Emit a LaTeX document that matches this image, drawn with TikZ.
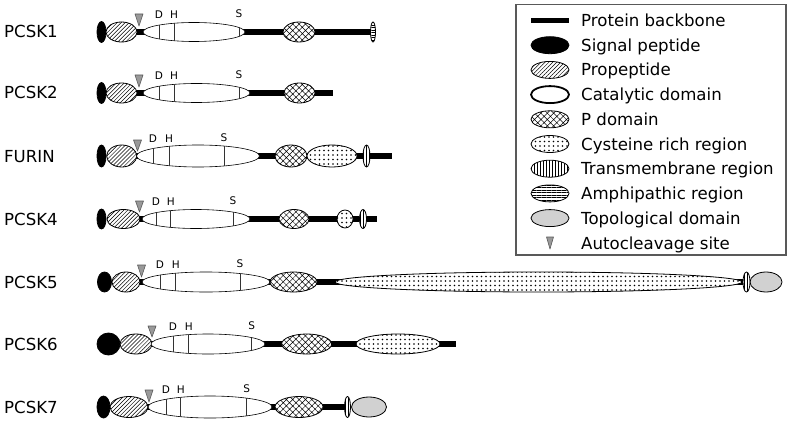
\documentclass[tikz,border=0pt]{standalone}
\usepackage{fontspec}
\setmainfont{DejaVu Sans}
\usetikzlibrary{
  backgrounds,
  patterns.meta,
  positioning,
  shapes.geometric,
}
\tikzset{
  dom/.style={ellipse, draw, line width=0.8pt, inner sep=0pt, outer sep=0pt},
  wh/.style 2 args={minimum width=#1pt, minimum height=#2pt},
  sigpep/.style={dom, fill=black},
  propep/.style={dom, preaction={fill=white}, pattern={Lines[angle=45, distance=2.8pt, line width=0.5pt]}},
  catdom/.style={dom, fill=white, line width=0.6pt},
  catleg/.style={catdom, line width=1.8pt},
  pdom/.style={dom, preaction={fill=white}, pattern={Hatch[angle=45, distance=4.5pt, line width=0.5pt]}},
  cysrich/.style={dom, preaction={fill=white}, pattern={Dots[distance=4.5pt, radius=0.9pt]}},
  tmreg/.style={dom, preaction={fill=white}, pattern={Lines[angle=90, distance=3pt, line width=0.6pt]}},
  amphreg/.style={dom, preaction={fill=white}, pattern={Lines[angle=0, distance=2.5pt, line width=0.5pt]}},
  topodom/.style={dom, fill=black!18},
  backbone/.style={line width=6.5pt},
  site/.style={line width=0.6pt, black!80},
  sitelbl/.style={inner sep=0pt, text height=7.7pt, text depth=0pt, font=\fontsize{10.5}{12}\selectfont},
  cleave/.style={fill=black!40, draw=black!65, line width=0.6pt, line join=round},
  protname/.style={anchor=west, inner sep=0pt, text height=12pt, text depth=0pt, font=\fontsize{16.6}{20}\selectfont},
}

\begin{document}
\begin{tikzpicture}[x=1pt, y=-1pt]
  \useasboundingbox (0,0) rectangle (789,425);

  % PCSK1
  \node[protname] (n1) at (4,32) {PCSK1};
  \node[sigpep, wh={9}{21}] (sp1) at (101.5,32) {};
  \node[propep, wh={31}{20}] (pp1) at (121.5,32) {};
  \node[catdom, wh={102}{19}] (cd1) at (194,32) {};
  \node[pdom, wh={32}{20}] (pd1) at (299,32) {};
  \node[amphreg, wh={5}{20}] (am1) at (373,32) {};
  \begin{scope}
    \clip (cd1.center) ellipse [x radius=51, y radius=9.5];
    \foreach \x in {159, 174, 239}
      \draw[site] (\x,20) -- (\x,44);
  \end{scope}
  \node[sitelbl] (d1) at (159,15) {D};
  \node[sitelbl] (h1) at (174,15) {H};
  \node[sitelbl] (s1) at (239,14) {S};
  \draw[cleave] (139,26) -- ++(-4,-12) -- ++(8,0) -- cycle;

  % PCSK2
  \node[protname] (n2) at (4,93) {PCSK2};
  \node[sigpep, wh={9}{21}] (sp2) at (101.5,93) {};
  \node[propep, wh={31}{20}] (pp2) at (121.5,93) {};
  \node[catdom, wh={107}{19}] (cd2) at (196.5,93) {};
  \node[pdom, wh={31}{20}] (pd2) at (299.5,93) {};
  \coordinate (e2) at (333,93);
  \begin{scope}
    \clip (cd2.center) ellipse [x radius=53.5, y radius=9.5];
    \foreach \x in {159, 174, 239}
      \draw[site] (\x,80) -- (\x,106);
  \end{scope}
  \node[sitelbl] (d2) at (159,76) {D};
  \node[sitelbl] (h2) at (174,76) {H};
  \node[sitelbl] (s2) at (239,75) {S};
  \draw[cleave] (139,87) -- ++(-4,-12) -- ++(8,0) -- cycle;

  % FURIN
  \node[protname] (n3) at (4,156) {FURIN};
  \node[sigpep, wh={9}{22}] (sp3) at (101.5,156) {};
  \node[propep, wh={30}{22}] (pp3) at (121.7,156) {};
  \node[catdom, wh={123}{22}] (cd3) at (198,156) {};
  \node[pdom, wh={32}{22}] (pd3) at (291,156) {};
  \node[cysrich, wh={50}{22}] (cr3) at (332,156) {};
  \node[tmreg, wh={7}{22}] (tm3) at (366.5,156) {};
  \coordinate (e3) at (392,156);
  \begin{scope}
    \clip (cd3.center) ellipse [x radius=61.5, y radius=11];
    \foreach \x in {153, 169, 224}
      \draw[site] (\x,142) -- (\x,170);
  \end{scope}
  \node[sitelbl] (d3) at (153,139) {D};
  \node[sitelbl] (h3) at (169,139) {H};
  \node[sitelbl] (s3) at (224,138) {S};
  \draw[cleave] (137.5,151) -- ++(-4,-11) -- ++(8,0) -- cycle;

  % PCSK4
  \node[protname] (n4) at (4,219) {PCSK4};
  \node[sigpep, wh={9}{20}] (sp4) at (101.5,219) {};
  \node[propep, wh={33}{19}] (pp4) at (123.5,219) {};
  \node[catdom, wh={108}{19}] (cd4) at (196,219) {};
  \node[pdom, wh={30}{19}] (pd4) at (294,219) {};
  \node[cysrich, wh={16}{18}] (cr4) at (345,219) {};
  \node[tmreg, wh={7}{19}] (tm4) at (363,219) {};
  \coordinate (e4) at (377,219);
  \begin{scope}
    \clip (cd4.center) ellipse [x radius=54, y radius=9.5];
    \foreach \x in {156, 170.7, 233}
      \draw[site] (\x,206) -- (\x,232);
  \end{scope}
  \node[sitelbl] (d4) at (156,202) {D};
  \node[sitelbl] (h4) at (170.7,202) {H};
  \node[sitelbl] (s4) at (233,201) {S};
  \draw[cleave] (139.5,212) -- ++(-4,-11) -- ++(8,0) -- cycle;

  % PCSK5
  \node[protname] (n5) at (4,282) {PCSK5};
  \node[sigpep, wh={14}{20}] (sp5) at (104.5,282) {};
  \node[propep, wh={28}{20}] (pp5) at (126,282) {};
  \node[catdom, wh={128}{20}] (cd5) at (206,282) {};
  \node[pdom, wh={47}{20}] (pd5) at (293.5,282) {};
  \node[cysrich, wh={407}{20}] (cr5) at (538.5,282) {};
  \node[tmreg, wh={7}{20}] (tm5) at (746.5,282) {};
  \node[topodom, wh={32}{20}] (td5) at (766,282) {};
  \begin{scope}
    \clip (cd5.center) ellipse [x radius=64, y radius=10];
    \foreach \x in {160, 175.7, 240}
      \draw[site] (\x,268) -- (\x,296);
  \end{scope}
  \node[sitelbl] (d5) at (160,265) {D};
  \node[sitelbl] (h5) at (175.7,265) {H};
  \node[sitelbl] (s5) at (240,264) {S};
  \draw[cleave] (141.5,277) -- ++(-4,-12) -- ++(8,0) -- cycle;

  % PCSK6
  \node[protname] (n6) at (4,344) {PCSK6};
  \node[sigpep, wh={23}{22}] (sp6) at (108.5,344) {};
  \node[propep, wh={32}{20}] (pp6) at (136,344) {};
  \node[catdom, wh={114}{20}] (cd6) at (208,344) {};
  \node[pdom, wh={50}{20}] (pd6) at (306.7,344) {};
  \node[cysrich, wh={84}{20}] (cr6) at (398,344) {};
  \coordinate (e6) at (456,344);
  \begin{scope}
    \clip (cd6.center) ellipse [x radius=57, y radius=10];
    \foreach \x in {173, 188.7, 251.7}
      \draw[site] (\x,330) -- (\x,358);
  \end{scope}
  \node[sitelbl] (d6) at (173,327) {D};
  \node[sitelbl] (h6) at (188.7,327) {H};
  \node[sitelbl] (s6) at (251.7,326) {S};
  \draw[cleave] (152,337) -- ++(-4,-11) -- ++(8,0) -- cycle;

  % PCSK7
  \node[protname] (n7) at (4,407) {PCSK7};
  \node[sigpep, wh={13}{22}] (sp7) at (103.5,407) {};
  \node[propep, wh={38}{21}] (pp7) at (129,407) {};
  \node[catdom, wh={124}{22}] (cd7) at (210,407) {};
  \node[pdom, wh={48}{21}] (pd7) at (299,407) {};
  \node[tmreg, wh={6}{21}] (tm7) at (347.5,407) {};
  \node[topodom, wh={35}{20}] (td7) at (369,407) {};
  \begin{scope}
    \clip (cd7.center) ellipse [x radius=62, y radius=11];
    \foreach \x in {166, 180.7, 246.7}
      \draw[site] (\x,393) -- (\x,421);
  \end{scope}
  \node[sitelbl] (d7) at (166,390) {D};
  \node[sitelbl] (h7) at (180.7,390) {H};
  \node[sitelbl] (s7) at (246.7,389) {S};
  \draw[cleave] (149,402) -- ++(-4,-12) -- ++(8,0) -- cycle;

  % backbones behind the domains
  \begin{scope}[on background layer]
    \draw[backbone] (pp1.center) -- (am1.center);
    \draw[backbone] (pp2.center) -- (e2);
    \draw[backbone] (pp3.center) -- (e3);
    \draw[backbone] (pp4.center) -- (e4);
    \draw[backbone] (pp5.center) -- (tm5.center);
    \draw[backbone] (pp6.center) -- (e6);
    \draw[backbone] (pp7.center) -- (tm7.center);
  \end{scope}

  % legend
  \draw[draw=black!65, line width=1.2pt] (516,4.5) rectangle (786,255);
  \coordinate (lb1) at (531,20.5);
  \coordinate (lb2) at (569,20.5);
  \draw[backbone, line width=5.5pt] (lb1) -- (lb2);
  \node[protname] (lt0) at (581,20.5) {Protein backbone};
  \foreach \s/\t [count=\i] in {sigpep/Signal peptide, propep/Propeptide,
      catleg/Catalytic domain, pdom/P domain, cysrich/Cysteine rich region,
      tmreg/Transmembrane region, amphreg/Amphipathic region,
      topodom/Topological domain}
  {
    \node[\s, wh={38}{17}] (ls\i) at (550,20.5+24.7*\i) {};
    \node[protname] (lt\i) at (581,20.5+24.7*\i) {\t};
  }
  \draw[cleave] (550,249) -- ++(-3.5,-12) -- ++(7,0) -- cycle;
  \node[protname] (lt9) at (581,243) {Autocleavage site};
\end{tikzpicture}
\end{document}
